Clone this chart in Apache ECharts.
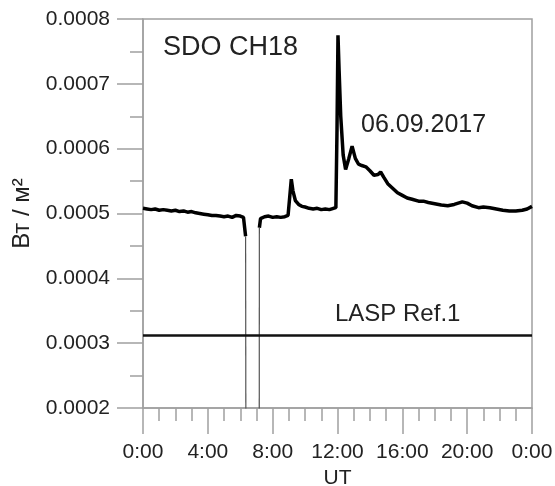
<!DOCTYPE html>
<html>
<head>
<meta charset="utf-8">
<script src="https://cdn.jsdelivr.net/npm/echarts@6/dist/echarts.min.js"></script>
<style>html,body{margin:0;padding:0;background:#fff}#c{width:555px;height:486px}</style>
</head>
<body>
<div id="c"></div>
<script>
// Time in UT hours and measured flux (W/m^2)
const utHours = [0,0.25,0.5,0.75,1,1.25,1.5,1.75,2,2.25,2.5,2.75,3,3.25,3.5,3.75,4,4.25,4.5,4.75,5,5.25,5.5,5.75,6,6.2,6.3,6.33,
  null,
  7.18,7.25,7.5,7.75,8,8.25,8.5,8.75,8.95,9.05,9.15,9.25,9.4,9.6,9.8,10,10.25,10.5,10.75,11,11.25,11.5,11.75,11.9,
  11.97,12.03,12.1,12.2,12.35,12.5,12.7,12.9,13.1,13.3,13.5,13.75,14,14.25,14.5,14.66,14.85,15.1,15.4,15.7,16,16.3,16.6,17,17.3,17.6,18,18.4,18.8,19.2,19.7,20,20.3,20.7,21,21.4,21.8,22.2,22.6,23,23.4,23.7,24];
const flux = [0.000508,0.000507,0.000506,0.000507,0.000505,0.000506,0.000505,0.000504,0.000505,0.000503,0.000504,0.000502,0.000503,0.000501,0.000500,0.000499,0.000498,0.000497,0.000497,0.000496,0.000495,0.000496,0.000494,0.000497,0.000496,0.000494,0.000492,0.000465,
  null,
  0.000478,0.000492,0.000495,0.000496,0.000494,0.000495,0.000494,0.000495,0.000497,0.000525,0.000553,0.000535,0.000520,0.000514,0.000511,0.000510,0.000508,0.000507,0.000508,0.000506,0.000507,0.000506,0.000508,0.000509,
  0.000630,0.000775,0.000720,0.000650,0.000590,0.000568,0.000585,0.000604,0.000585,0.000576,0.000574,0.000572,0.000566,0.000559,0.000560,0.000564,0.000556,0.000546,0.000539,0.000532,0.000528,0.000524,0.000522,0.000519,0.000519,0.000517,0.000515,0.000513,0.000512,0.000514,0.000518,0.000516,0.000512,0.000509,0.000510,0.000509,0.000507,0.000505,0.000504,0.000504,0.000505,0.000507,0.000511];
// Data dropout (signal falls below the axis)
const dropHours1 = [6.33, 6.35];
const dropFlux1 = [0.000465, 0.0001];
const dropHours2 = [7.17, 7.18];
const dropFlux2 = [0.0001, 0.000478];
// LASP reference level
const refHours = [0, 24];
const refFlux = [0.000312, 0.000312];
// Tick labels
const xTickLabels = ['0:00','4:00','8:00','12:00','16:00','20:00','0:00'];

const zip = (a, b) => a.map((v, i) => (v === null ? [null, null] : [v, b[i]]));
const grey = '#a0a0a0';
const font = 'Liberation Sans, Arial, sans-serif';

const chart = echarts.init(document.getElementById('c'), null, {renderer: 'canvas'});
chart.setOption({
  animation: false,
  backgroundColor: '#fff',
  grid: {left: 143, right: 23, top: 19, bottom: 78, outerBoundsMode: 'none', containLabel: false,
    show: true, borderColor: grey, borderWidth: 1.5, backgroundColor: 'transparent'},
  xAxis: {
    type: 'value', min: 0, max: 24, interval: 4,
    name: 'UT', nameLocation: 'middle', nameGap: 56,
    nameTextStyle: {fontFamily: font, fontSize: 21, color: '#222'},
    axisLine: {lineStyle: {color: grey, width: 1.5}},
    axisTick: {show: true, length: 26, lineStyle: {color: grey, width: 1.5}},
    minorTick: {show: true, splitNumber: 4, length: 13, lineStyle: {color: grey, width: 1.5}},
    splitLine: {show: false},
    axisLabel: {margin: 34, fontFamily: font, fontSize: 21, color: '#222', showMaxLabel: true, showMinLabel: true,
      formatter: v => xTickLabels[Math.round(v / 4)]}
  },
  yAxis: {
    type: 'value', min: 0.0002, max: 0.0008, interval: 0.0001,
    name: 'Вт / м²', nameLocation: 'middle', nameGap: 108, nameRotate: 90,
    nameTextStyle: {fontFamily: font, fontSize: 24, color: '#222'},
    axisLine: {show: true, lineStyle: {color: grey, width: 1.5}},
    axisTick: {show: true, length: 26, lineStyle: {color: grey, width: 1.5}},
    minorTick: {show: true, splitNumber: 2, length: 13, lineStyle: {color: grey, width: 1.5}},
    splitLine: {show: false},
    axisLabel: {margin: 33, fontFamily: font, fontSize: 21, color: '#222', formatter: v => v.toFixed(4)}
  },
  series: [
    {type: 'line', showSymbol: false, connectNulls: false, data: zip(utHours, flux),
      lineStyle: {color: '#000', width: 3.5}, z: 3},
    {type: 'line', showSymbol: false, data: zip(dropHours1, dropFlux1), lineStyle: {color: '#555', width: 1.2}},
    {type: 'line', showSymbol: false, data: zip(dropHours2, dropFlux2), lineStyle: {color: '#555', width: 1.2}},
    {type: 'line', showSymbol: false, data: zip(refHours, refFlux), lineStyle: {color: '#111', width: 2.5}}
  ],
  graphic: [
    {type: 'text', left: 163, top: 34, style: {text: 'SDO CH18', font: '27px ' + font, fill: '#222'}},
    {type: 'text', left: 361, top: 113, style: {text: '06.09.2017', font: '25px ' + font, fill: '#222'}},
    {type: 'text', left: 335, top: 302, style: {text: 'LASP Ref.1', font: '24px ' + font, fill: '#222'}}
  ]
});
</script>
</body>
</html>
